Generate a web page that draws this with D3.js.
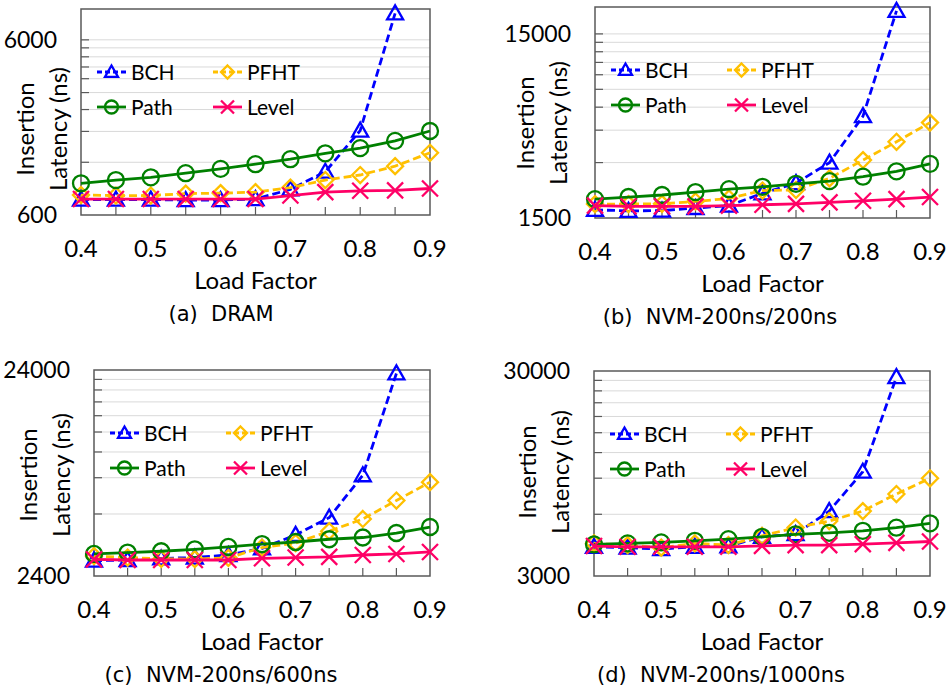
<!DOCTYPE html>
<html>
<head>
<meta charset="utf-8">
<script src="https://cdn.jsdelivr.net/npm/d3@7"></script>
<style>
  body { margin: 0; background: #fff; }
  svg { display: block; }
  text { font-family: Lato, "Open Sans", sans-serif; fill: #000; }
  .caption { font-family: "DejaVu Sans", sans-serif; white-space: pre; }
</style>
</head>
<body>
<div id="chart"></div>
<script>
  const loadFactors = [0.4, 0.45, 0.5, 0.55, 0.6, 0.65, 0.7, 0.75, 0.8, 0.85, 0.9];
  const xTickLabels = [0.4, 0.5, 0.6, 0.7, 0.8, 0.9];
  const seriesNames = ["BCH", "PFHT", "Path", "Level"];

  // (a) DRAM
  const dramBCH   = [735, 735, 735, 730, 730, 740, 840, 1060, 1820, 8500];
  const dramPFHT  = [780, 775, 775, 795, 800, 810, 860, 950, 1015, 1140, 1360];
  const dramPath  = [910, 950, 985, 1040, 1100, 1170, 1250, 1350, 1445, 1590, 1810];
  const dramLevel = [740, 740, 740, 740, 740, 740, 775, 810, 825, 830, 850];

  // (b) NVM-200ns/200ns
  const nvm200BCH   = [1660, 1640, 1645, 1700, 1750, 2040, 2320, 3000, 5360, 20000];
  const nvm200PFHT  = [1785, 1785, 1790, 1845, 1915, 2115, 2130, 2465, 3095, 3890, 4945];
  const nvm200Path  = [1900, 1950, 2000, 2075, 2150, 2215, 2300, 2380, 2515, 2690, 2955];
  const nvm200Level = [1750, 1735, 1735, 1735, 1750, 1770, 1790, 1825, 1860, 1900, 1950];

  // (c) NVM-200ns/600ns
  const nvm600BCH   = [2850, 2870, 2920, 2950, 3035, 3270, 3800, 4610, 7400, 23100];
  const nvm600PFHT  = [3000, 2950, 2905, 2900, 2940, 3300, 3470, 3960, 4540, 5580, 6850];
  const nvm600Path  = [3070, 3120, 3165, 3235, 3320, 3430, 3510, 3620, 3690, 3880, 4150];
  const nvm600Level = [2890, 2870, 2870, 2870, 2870, 2925, 2950, 2970, 3035, 3070, 3140];

  // (d) NVM-200ns/1000ns
  const nvm1000BCH   = [4165, 4125, 4060, 4165, 4190, 4660, 4800, 6220, 9680, 28000];
  const nvm1000PFHT  = [4325, 4245, 4125, 4325, 4245, 4705, 5170, 5560, 6220, 7535, 8990];
  const nvm1000Path  = [4280, 4325, 4375, 4455, 4540, 4660, 4790, 4875, 4985, 5160, 5420];
  const nvm1000Level = [4200, 4165, 4165, 4165, 4165, 4210, 4245, 4245, 4290, 4350, 4420];

  const STYLES = {
    BCH:   { color: "#0000ff", dash: "8,4", marker: "triangle" },
    PFHT:  { color: "#ffc000", dash: "8,4", marker: "diamond" },
    Path:  { color: "#008000", dash: null,  marker: "circle" },
    Level: { color: "#ff0066", dash: null,  marker: "cross" }
  };

  const FONT = 24;

  const panels = [
    { left: 81,  right: 430, top: 9,   bottom: 215, domain: [600, 9000],   caption: "(a)  DRAM",
      capX: 221, titleX: 25,  titleY: 129, series: [dramBCH, dramPFHT, dramPath, dramLevel] },
    { left: 595, right: 930, top: 7,   bottom: 218, domain: [1500, 21000], caption: "(b)  NVM-200ns/200ns",
      capX: 720, titleX: 525, titleY: 123, series: [nvm200BCH, nvm200PFHT, nvm200Path, nvm200Level] },
    { left: 94,  right: 430, top: 370, bottom: 576, domain: [2400, 24000], caption: "(c)  NVM-200ns/600ns",
      capX: 221, titleX: 28,  titleY: 475, series: [nvm600BCH, nvm600PFHT, nvm600Path, nvm600Level] },
    { left: 594, right: 930, top: 371, bottom: 576, domain: [3000, 30000], caption: "(d)  NVM-200ns/1000ns",
      capX: 721, titleX: 527, titleY: 472, series: [nvm1000BCH, nvm1000PFHT, nvm1000Path, nvm1000Level] }
  ];

  const svg = d3.select("#chart").append("svg")
    .attr("width", 950)
    .attr("height", 694);

  panels.forEach(drawPanel);

  function drawPanel(p) {
    const g = svg.append("g");

    const x = d3.scaleLinear().domain([0.4, 0.9]).range([p.left, p.right]);
    const y = d3.scaleLog().domain(p.domain).range([p.bottom, p.top]);

    // gridlines + inner ticks at every multiple of the axis minimum (Excel style)
    const minorVals = [];
    for (let base = p.domain[0]; base < p.domain[1]; base *= 10) {
      for (let m = 1; m <= 9; m++) {
        const v = base * m;
        if (v > p.domain[0] && v < p.domain[1] * 0.999) minorVals.push(v);
      }
    }
    g.selectAll(".grid").data(minorVals).join("line")
      .attr("x1", p.left).attr("x2", p.right)
      .attr("y1", d => y(d)).attr("y2", d => y(d))
      .attr("stroke", "#d9d9d9").attr("stroke-width", 1);
    g.selectAll(".ytick").data(minorVals).join("line")
      .attr("x1", p.left).attr("x2", p.left + 8)
      .attr("y1", d => y(d)).attr("y2", d => y(d))
      .attr("stroke", "#595959").attr("stroke-width", 1.2);

    // x ticks, pointing inward
    g.selectAll(".xtick").data(loadFactors.slice(1, -1)).join("line")
      .attr("x1", d => x(d)).attr("x2", d => x(d))
      .attr("y1", p.bottom).attr("y2", p.bottom - 8)
      .attr("stroke", "#595959").attr("stroke-width", 1.2);

    g.append("rect")
      .attr("x", p.left).attr("y", p.top)
      .attr("width", p.right - p.left).attr("height", p.bottom - p.top)
      .attr("fill", "none").attr("stroke", "#595959").attr("stroke-width", 1.5);

    // y labels only at majors
    const majors = [p.domain[0], p.domain[0] * 10];
    g.selectAll(".ylab").data(majors).join("text")
      .attr("x", p.left - 24).attr("y", d => y(d))
      .attr("dy", "0.36em")
      .attr("text-anchor", "end")
      .attr("font-size", 23)
      .text(d => d);

    g.selectAll(".xlab").data(xTickLabels).join("text")
      .attr("x", d => x(d)).attr("y", p.bottom + 33)
      .attr("dy", "0.36em")
      .attr("text-anchor", "middle")
      .attr("font-size", FONT)
      .text(d => d3.format(".1f")(d));

    g.append("text")
      .attr("x", (p.left + p.right) / 2).attr("y", p.bottom + 65)
      .attr("dy", "0.36em")
      .attr("text-anchor", "middle")
      .attr("font-size", FONT)
      .text("Load Factor");

    g.append("text")
      .attr("class", "caption")
      .attr("x", p.capX).attr("y", p.bottom + 98)
      .attr("dy", "0.36em")
      .attr("text-anchor", "middle")
      .attr("font-size", 21)
      .text(p.caption);

    ["Insertion", "Latency (ns)"].forEach((t, i) => {
      g.append("text")
        .attr("transform", `translate(${p.titleX + i * 33},${p.titleY}) rotate(-90)`)
        .attr("dy", "0.36em")
        .attr("text-anchor", "middle")
        .attr("font-size", FONT)
        .text(t);
    });

    // series
    p.series.forEach((vals, i) => {
      const st = STYLES[seriesNames[i]];
      const pts = vals.map((v, j) => [x(loadFactors[j]), y(v)]);
      g.append("path")
        .attr("d", d3.line()(pts))
        .attr("fill", "none")
        .attr("stroke", st.color)
        .attr("stroke-width", 2.8)
        .attr("stroke-dasharray", st.dash);
      pts.forEach(pt => drawMarker(g, st, pt[0], pt[1], 8));
    });

    // legend
    seriesNames.forEach((name, i) => {
      const st = STYLES[name];
      const lx = p.left + (i % 2 === 0 ? 16 : 132);
      const ly = p.top + (i < 2 ? 63 : 98);
      g.append("line")
        .attr("x1", lx).attr("x2", lx + 29)
        .attr("y1", ly).attr("y2", ly)
        .attr("stroke", st.color).attr("stroke-width", 2.8)
        .attr("stroke-dasharray", st.dash ? "5,3" : null);
      drawMarker(g, st, lx + 14.5, ly, 6.5);
      g.append("text")
        .attr("x", lx + 34).attr("y", ly)
        .attr("dy", "0.36em")
        .attr("font-size", 21)
        .text(name);
    });
  }

  function drawMarker(g, st, cx, cy, r) {
    let sel;
    if (st.marker === "circle") {
      sel = g.append("circle").attr("cx", cx).attr("cy", cy).attr("r", r);
    } else if (st.marker === "triangle") {
      sel = g.append("path")
        .attr("d", `M${cx},${cy - r}L${cx + r},${cy + r * 0.75}L${cx - r},${cy + r * 0.75}Z`);
    } else if (st.marker === "diamond") {
      sel = g.append("path")
        .attr("d", `M${cx},${cy - r}L${cx + r},${cy}L${cx},${cy + r}L${cx - r},${cy}Z`);
    } else {
      sel = g.append("path")
        .attr("d", `M${cx - r},${cy - r}L${cx + r},${cy + r}M${cx - r},${cy + r}L${cx + r},${cy - r}`);
    }
    sel.attr("fill", "none").attr("stroke", st.color).attr("stroke-width", 2.3);
  }
</script>
</body>
</html>
